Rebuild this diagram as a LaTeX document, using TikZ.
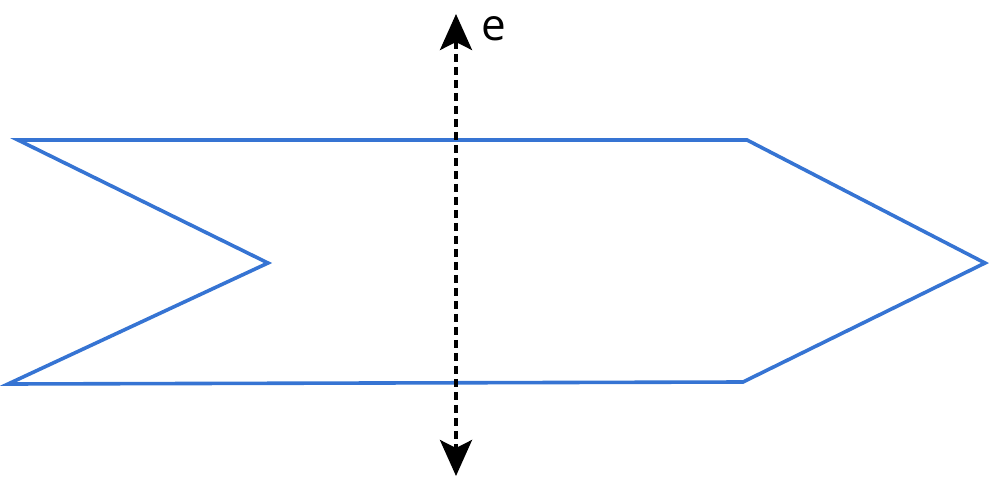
\documentclass[tikz,border=0pt]{standalone}
\usepackage{fontspec}
\setmainfont{Open Sans}
\usetikzlibrary{arrows.meta}
\begin{document}
\begin{tikzpicture}[x=1pt,y=-1pt,
  shapeline/.style={draw={rgb,255:red,54;green,116;blue,211}, line width=3.6pt, line join=miter},
  axisline/.style={draw=black, line width=3.6pt, dash pattern=on 8pt off 5pt, {Stealth[length=36pt,width=32pt,inset=8pt]}-{Stealth[length=36pt,width=32pt,inset=8pt]}},
  lbl/.style={font=\fontsize{44}{52}\selectfont, inner sep=0pt}]
\useasboundingbox (0,0) rectangle (989,477);
\coordinate (p1) at (18,140);
\coordinate (p2) at (747,140);
\coordinate (p3) at (985,263);
\coordinate (p4) at (743,382);
\coordinate (p5) at (8,384);
\coordinate (p6) at (268,263);
\draw[shapeline] (p1) -- (p2) -- (p3) -- (p4) -- (p5) -- (p6) -- cycle;
\coordinate (top) at (456,14);
\coordinate (bot) at (456,476);
\draw[axisline] (top) -- (bot);
\node[lbl] (e) at (494,29) {e};
\end{tikzpicture}
\end{document}
